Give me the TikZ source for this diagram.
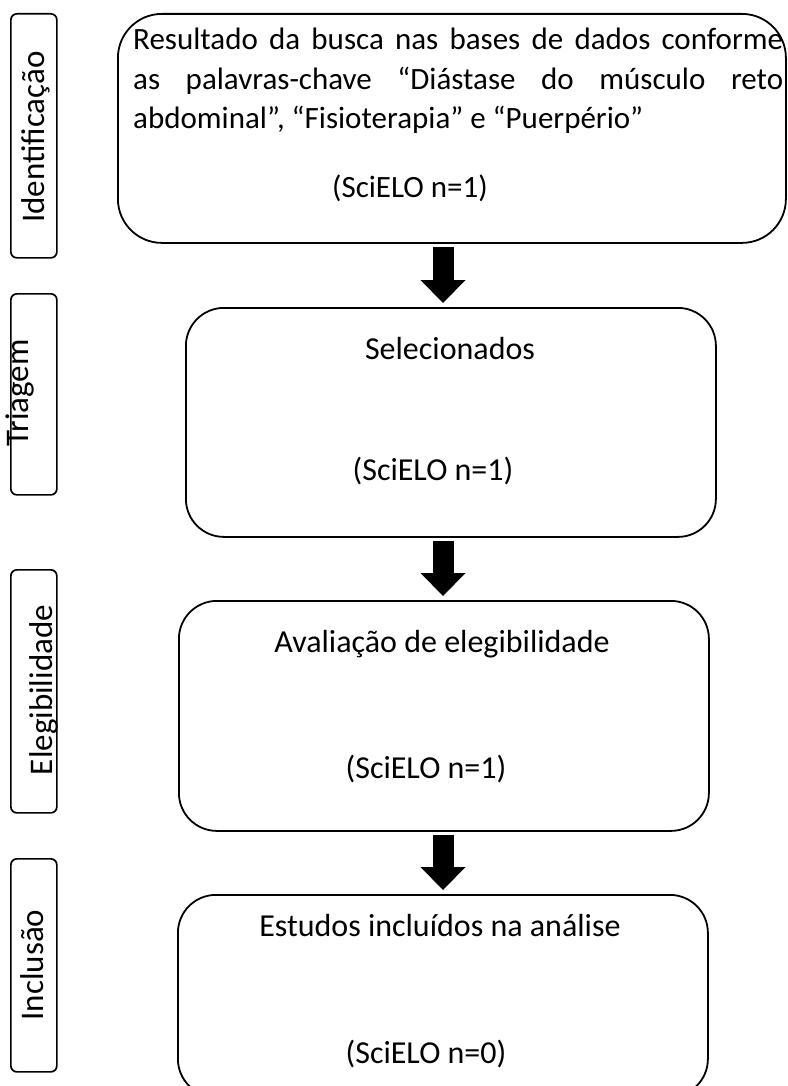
\documentclass[tikz,border=0pt]{standalone}
\usepackage{fontspec}
\setmainfont{Carlito}
\usetikzlibrary{arrows.meta}
\tikzset{
  stagebox/.style={draw=black, line width=1.8pt, rounded corners=#1, anchor=north west, inner sep=0pt},
  phasebox/.style={draw=black, line width=1.7pt, rounded corners=6pt, anchor=north west, inner sep=0pt, minimum width=46pt},
  phaselbl/.style={rotate=90, anchor=base, inner sep=0pt, font=\fontsize{33}{40}\selectfont},
  txt/.style={anchor=base, inner sep=0pt, font=\fontsize{32}{39}\selectfont},
  flow/.style={line width=21pt, -{Triangle[width=45pt,length=23pt,line width=0pt]}, shorten <=3pt, shorten >=4pt}
}
\begin{document}
\begin{tikzpicture}[x=1pt,y=-1pt,font=\fontsize{31}{39.5}\selectfont]
\useasboundingbox (0,0) rectangle (787,1086);
\fill[white] (0,0) rectangle (787,1086);
\clip (0,0) rectangle (787,1086);

% phase labels
\node[phasebox, minimum height=244pt] (p1) at (10,13) {};
\node[phasebox, minimum height=201pt] (p2) at (10,293) {};
\node[phasebox, minimum height=243pt] (p3) at (10,569) {};
\node[phasebox, minimum height=213pt] (p4) at (10,858) {};
\node[phaselbl] (l1) at (44,137) {Identificação};
\node[phaselbl] (l2) at (28,393) {Triagem};
\node[phaselbl] (l3) at (52,690) {Elegibilidade};
\node[phaselbl] (l4) at (43,965) {Inclusão};

% stage boxes
\node[stagebox=44pt, minimum width=668pt, minimum height=229pt] (b1) at (117,13) {};
\node[stagebox=38pt, minimum width=530pt, minimum height=229pt] (b2) at (185,307) {};
\node[stagebox=38pt, minimum width=530pt, minimum height=230pt] (b3) at (178,600) {};
\node[stagebox=38pt, minimum width=530pt, minimum height=202pt] (b4) at (177,894) {};

% texts
\node[anchor=base west, inner sep=0pt] (t1) at (133,50) {\parbox[t]{650pt}{\makebox[650pt][s]{Resultado da busca nas bases de dados conforme}\\\makebox[650pt][s]{as palavras-chave “Diástase do músculo reto}\\abdominal”, “Fisioterapia” e “Puerpério”}};
\node[txt, font=\fontsize{31}{38.5}\selectfont] (s1) at (410,197) {(SciELO n=1)};
\node[txt] (h2) at (450,359) {Selecionados};
\node[txt] (s2) at (433,480) {(SciELO n=1)};
\node[txt] (h3) at (442,652) {Avaliação de elegibilidade};
\node[txt] (s3) at (426,778) {(SciELO n=1)};
\node[txt] (h4) at (440,936) {Estudos incluídos na análise};
\node[txt] (s4) at (426,1063) {(SciELO n=0)};

% arrows
\coordinate (ax) at (443,0);
\draw[flow] (b1.south -| ax) -- (b2.north -| ax);
\draw[flow] (b2.south -| ax) -- (b3.north -| ax);
\draw[flow] (b3.south -| ax) -- (b4.north -| ax);
\end{tikzpicture}
\end{document}
